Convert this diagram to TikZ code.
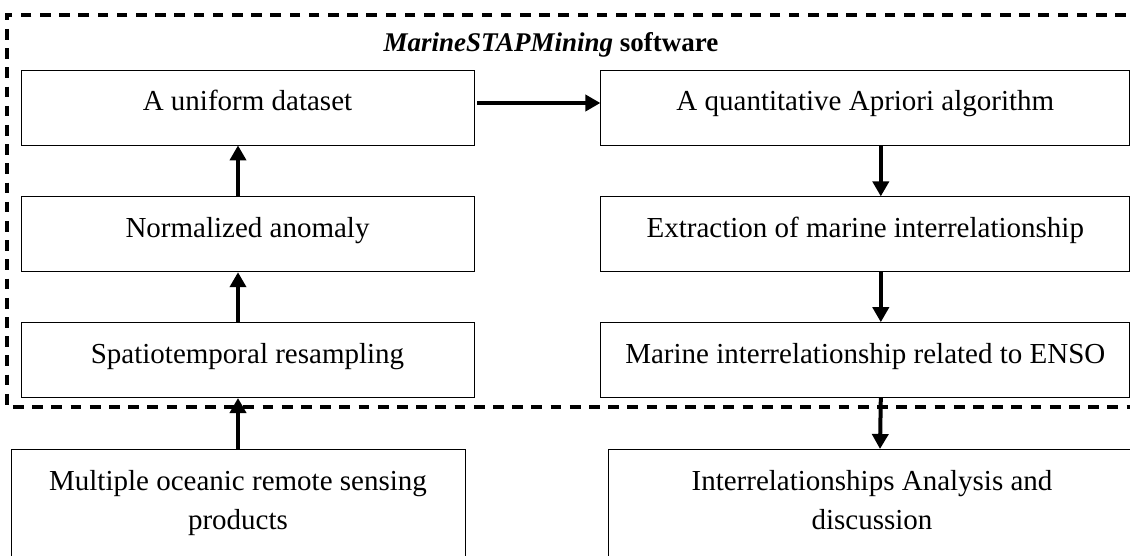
\documentclass[tikz,border=0pt]{standalone}
\usepackage{fontspec}
\setmainfont{Liberation Serif}
\usetikzlibrary{positioning, arrows.meta}
\tikzset{>={Triangle[length=15pt,width=16pt]},
box/.style={draw, line width=0.8pt, inner sep=0pt, minimum height=75pt,
  font=\fontsize{29pt}{35pt}\selectfont, text height=19pt, text depth=12pt},
outbox/.style={draw, line width=0.8pt, anchor=north, inner xsep=0pt, inner ysep=22pt,
  align=center, font=\fontsize{29pt}{39pt}\selectfont, text height=58pt, text depth=41pt},
frame/.style={line width=3.2pt, dash pattern=on 10.7pt off 8.5pt},
flow/.style={->, line width=4pt},
}

\begin{document}
\begin{tikzpicture}[x=1pt, y=-1pt]
            \useasboundingbox (0,0) rectangle (1130,556);
            \clip (0,0) rectangle (1130,556);

            % software frame, open on the right
            \draw[frame] (1145,15) -- (7,15) -- (7,407) -- (1145,407);
            \node[anchor=base, font=\fontsize{27pt}{32pt}\selectfont\bfseries] (ttl) at (551,52)
                {\textit{MarineSTAPMining} software};

            % preprocessing column
            \node[box, minimum width=453pt] (uds) at (247.5,107.5) {A uniform dataset};
            \node[box, minimum width=453pt, below=51pt of uds] (nrm) {Normalized anomaly};
            \node[box, minimum width=453pt, below=50pt of nrm] (spt) {Spatiotemporal resampling};

            % mining column
            \node[box, minimum width=529pt, right=126pt of uds] (apr) {A quantitative Apriori algorithm};
            \node[box, minimum width=529pt, below=51pt of apr] (ext) {Extraction of marine interrelationship};
            \node[box, minimum width=529pt, below=50pt of ext] (enso) {Marine interrelationship related to ENSO};

            % input and output
            \node[outbox, minimum width=454pt] (msp) at (238,449) {Multiple oceanic remote sensing\\products};
            \node[outbox, minimum width=528pt] (dis) at (872,449) {Interrelationships Analysis and\\discussion};

            \draw[flow] (msp.north) -- (spt.south -| msp.north);
            \draw[flow] (spt.north -| msp.north) -- (nrm.south -| msp.north);
            \draw[flow] (nrm.north -| msp.north) -- (uds.south -| msp.north);
            \draw[flow] ([xshift=3pt, yshift=4.5pt]uds.east) -- ([yshift=4.5pt]apr.west);
            \draw[flow] ([xshift=15.5pt]apr.south) -- ([xshift=15.5pt]ext.north);
            \draw[flow] ([xshift=15.5pt]ext.south) -- ([xshift=15.5pt]enso.north);
            \draw[flow] ([xshift=15.5pt]enso.south) -- ([xshift=8pt]dis.north);
        \end{tikzpicture}
\end{document}
